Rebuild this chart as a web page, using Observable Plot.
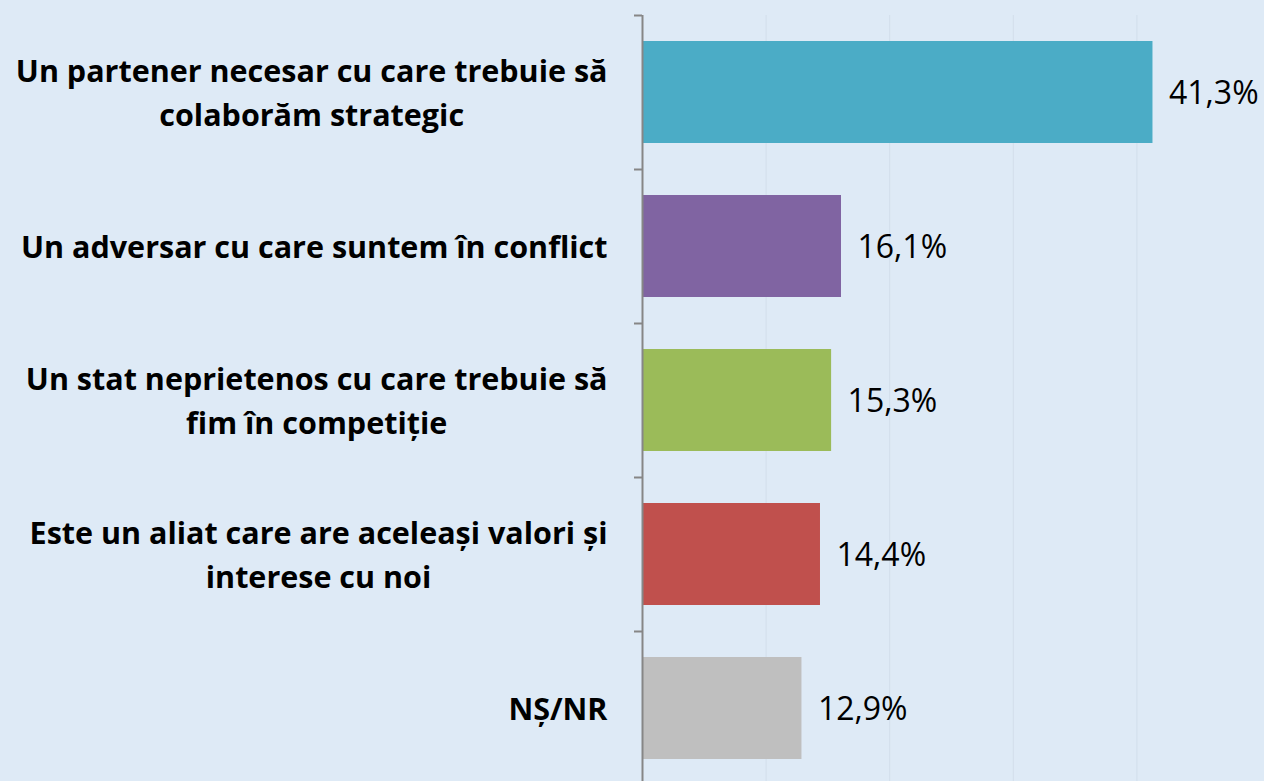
<!DOCTYPE html>
<html>
<head>
<meta charset="utf-8">
<script src="https://cdn.jsdelivr.net/npm/d3@7"></script>
<script src="https://cdn.jsdelivr.net/npm/@observablehq/plot@0.6"></script>
<style>
  html, body { margin: 0; padding: 0; background: #DEEAF6; }
  svg { display: block; }
</style>
</head>
<body>
<div id="chart"></div>
<script>
const categories = [
  "Un partener necesar cu care trebuie să colaborăm strategic",
  "Un adversar cu care suntem în conflict",
  "Un stat neprietenos cu care trebuie să fim în competiție",
  "Este un aliat care are aceleași valori și interese cu noi",
  "NȘ/NR"
];
const tickLabels = [
  "Un partener necesar cu care trebuie să\ncolaborăm strategic",
  "Un adversar cu care suntem în conflict",
  "Un stat neprietenos cu care trebuie să\nfim în competiție",
  "Este un aliat care are aceleași valori și\ninterese cu noi",
  "NȘ/NR"
];
const values = [41.3, 16.1, 15.3, 14.4, 12.9];
const colors = ["#4BACC6", "#8064A2", "#9BBB59", "#C0504D", "#BFBFBF"];
const gridTicks = [10, 20, 30, 40];

const data = categories.map((c, i) => ({category: c, value: values[i], color: colors[i]}));
const labelOf = new Map(categories.map((c, i) => [c, tickLabels[i]]));
const fmt = v => v.toFixed(1).replace(".", ",") + "%";

const W = 1264, H = 781, yTop = 15, yBottom = 785;
const step = (yBottom - yTop) / categories.length;

const plot = Plot.plot({
  width: W,
  height: H,
  marginLeft: 642,
  marginRight: 4,
  marginTop: yTop,
  marginBottom: 0,
  style: {background: "#DEEAF6", fontFamily: "'Open Sans', sans-serif", overflow: "visible"},
  x: {domain: [0, 50], axis: null},
  y: {domain: categories, range: [yTop, yBottom], paddingInner: 0.34, paddingOuter: 0.17, axis: null},
  marks: [
    Plot.gridX(gridTicks, {stroke: "#D2DEEB", strokeOpacity: 1, strokeWidth: 1}),
    Plot.barX(data, {y: "category", x: "value", fill: "color"}),
    Plot.text(data, {y: "category", x: "value", text: d => fmt(d.value), textAnchor: "start", dx: 16, dy: 1, fontSize: 32, fill: "#000"}),
    Plot.axisY({tickSize: 8, text: null, label: null, dy: -step / 2, stroke: "#868686", strokeWidth: 2}),
    Plot.axisY({tickSize: 0, tickPadding: 35, label: null, dy: -3, tickFormat: d => labelOf.get(d), fontSize: 30.5, fontWeight: "bold", lineHeight: 1.46, fill: "#000"}),
    Plot.ruleX([0], {stroke: "#868686", strokeWidth: 2})
  ]
});

document.getElementById("chart").appendChild(plot);

// Center multi-line category labels within their right-aligned block (as in the source).
plot.querySelectorAll('g[aria-label="y-axis tick label"] text').forEach(t => {
  const spans = t.querySelectorAll("tspan");
  if (spans.length < 2) return;
  let maxW = 0;
  spans.forEach(s => { maxW = Math.max(maxW, s.getComputedTextLength()); });
  t.setAttribute("text-anchor", "middle");
  spans.forEach(s => s.setAttribute("x", -maxW / 2));
});
</script>
</body>
</html>
